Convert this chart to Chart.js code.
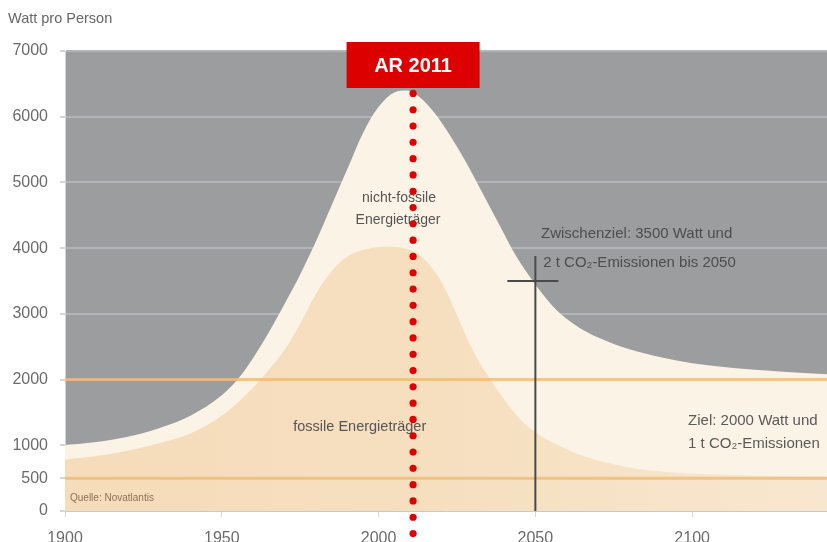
<!DOCTYPE html>
<html lang="de">
<head>
<meta charset="utf-8">
<title>Watt pro Person</title>
<script src="https://cdn.jsdelivr.net/npm/chart.js@4/dist/chart.umd.min.js"></script>
<style>
  html, body { margin: 0; padding: 0; background: #fff; }
  #wrap { width: 827px; height: 542px; position: relative; }
</style>
</head>
<body>
<div id="wrap"><canvas id="grafik"></canvas></div>
<script>
// Energiebedarf pro Person in Watt: Gesamtverlauf, fossiler Anteil, Ziele
const jahreGesamt = [1900, 1910, 1920, 1930, 1940, 1950, 1955, 1960, 1965, 1970, 1975, 1980, 1985, 1990, 1995, 2000, 2005, 2009, 2013, 2018, 2023, 2028, 2033, 2038, 2043, 2048, 2053, 2058, 2064, 2070, 2080, 2090, 2100, 2120, 2143];
const wattGesamt = [1000, 1050, 1130, 1260, 1450, 1760, 2000, 2330, 2720, 3150, 3600, 4100, 4650, 5200, 5750, 6150, 6370, 6400, 6300, 6050, 5700, 5300, 4850, 4400, 3950, 3580, 3260, 3000, 2790, 2640, 2460, 2340, 2250, 2150, 2080];

const jahreFossil = [1900, 1915, 1930, 1940, 1950, 1958, 1965, 1970, 1975, 1980, 1985, 1990, 1995, 2002, 2008, 2013, 2017, 2021, 2025, 2030, 2035, 2040, 2045, 2050, 2056, 2065, 2077, 2090, 2110, 2143];
const wattFossil = [780, 870, 1030, 1180, 1450, 1780, 2150, 2450, 2850, 3300, 3650, 3870, 3970, 4020, 4000, 3900, 3700, 3400, 2980, 2450, 2050, 1700, 1400, 1200, 1030, 840, 690, 600, 550, 520];

const xTicks = [1900, 1950, 2000, 2050, 2100];
const yTicks = [0, 500, 1000, 2000, 3000, 4000, 5000, 6000, 7000];

const zielWerte = [2000, 500];          // 2000 Watt / 1 t CO2
const zwischenzielJahr = 2050;
const zwischenzielWatt = 3500;
const arJahr = 2011;

const xMin = 1900, xMax = 2143;
const schrift = '"Liberation Sans", Arial, sans-serif';

const punkte = (xs, ys) => xs.map((v, i) => ({ x: v, y: ys[i] }));

// grauer Hintergrund der Zeichenfläche
const hintergrund = {
  id: 'hintergrund',
  beforeDraw(chart) {
    const { ctx, chartArea: a } = chart;
    ctx.save();
    ctx.fillStyle = '#9c9d9f';
    ctx.fillRect(a.left, a.top, a.right - a.left, a.bottom - a.top);
    ctx.restore();
  }
};

// Texte, Zwischenziel-Kreuz, AR-Linie und Kasten
const beschriftung = {
  id: 'beschriftung',
  afterDatasetsDraw(chart) {
    const { ctx, scales: { x, y }, chartArea: a } = chart;
    ctx.save();

    ctx.fillStyle = '#666';
    ctx.font = '14.5px ' + schrift;
    ctx.textAlign = 'left';
    ctx.textBaseline = 'middle';
    ctx.fillText('Watt pro Person', 8, 19);

    ctx.fillStyle = '#555';
    ctx.font = '14px ' + schrift;
    ctx.textAlign = 'center';
    ctx.fillText('nicht-fossile', x.getPixelForValue(2006.5), y.getPixelForValue(4760));
    ctx.fillText('Energieträger', x.getPixelForValue(2006.2), y.getPixelForValue(4430));
    ctx.font = '14.5px ' + schrift;
    ctx.fillText('fossile Energieträger', x.getPixelForValue(1994), y.getPixelForValue(1280));

    ctx.textAlign = 'left';
    ctx.font = '15px ' + schrift;
    ctx.fillStyle = '#4d4d4d';
    ctx.fillText('Zwischenziel: 3500 Watt und', x.getPixelForValue(2051.8), y.getPixelForValue(4215));
    ctx.fillText('2 t CO₂-Emissionen bis 2050', x.getPixelForValue(2052.5), y.getPixelForValue(3775));
    ctx.fillStyle = '#5a5a5a';
    ctx.fillText('Ziel: 2000 Watt und', x.getPixelForValue(2098.7), y.getPixelForValue(1370));
    ctx.fillText('1 t CO₂-Emissionen', x.getPixelForValue(2098.7), y.getPixelForValue(1020));

    ctx.fillStyle = '#8a7356';
    ctx.font = '10px ' + schrift;
    ctx.fillText('Quelle: Novatlantis', a.left + 5, y.getPixelForValue(200));

    // Kreuz beim Zwischenziel
    const cx = x.getPixelForValue(zwischenzielJahr);
    const cy = y.getPixelForValue(zwischenzielWatt);
    ctx.strokeStyle = '#4a4a4a';
    ctx.lineWidth = 2;
    ctx.beginPath();
    ctx.moveTo(cx, a.bottom);
    ctx.lineTo(cx, cy - 25);
    ctx.moveTo(cx - 28, cy);
    ctx.lineTo(cx + 23, cy);
    ctx.stroke();

    // gepunktete rote Linie ab dem Maximum
    const rx = x.getPixelForValue(arJahr);
    ctx.fillStyle = '#e00000';
    for (let py = y.getPixelForValue(Math.max(...wattGesamt)) + 3; py < chart.height + 4; py += 16.3) {
      ctx.beginPath();
      ctx.arc(rx, py, 3.6, 0, Math.PI * 2);
      ctx.fill();
    }

    // Kasten "AR 2011"
    ctx.fillStyle = '#dd0000';
    ctx.fillRect(rx - 66.5, 42, 133, 46);
    ctx.fillStyle = '#fff';
    ctx.font = 'bold 20px ' + schrift;
    ctx.textAlign = 'center';
    ctx.fillText('AR ' + arJahr, rx, 66);

    ctx.restore();
  }
};

const zielLinien = zielWerte.map(w => ({
  data: [{ x: xMin, y: w }, { x: xMax, y: w }],
  borderColor: 'rgba(238, 186, 118, 0.8)',
  borderWidth: 3,
  fill: false,
  order: 5
}));

new Chart(document.getElementById('grafik'), {
  type: 'line',
  data: {
    datasets: [
      {
        label: 'nicht-fossile Energieträger',
        data: punkte(jahreGesamt, wattGesamt),
        backgroundColor: '#fbf3e5',
        borderWidth: 0,
        fill: 'origin',
        cubicInterpolationMode: 'monotone',
        order: 10
      },
      {
        label: 'fossile Energieträger',
        data: punkte(jahreFossil, wattFossil),
        backgroundColor: (c) => {
          const a = c.chart.chartArea;
          if (!a) return '#f6e0c2';
          const g = c.chart.ctx.createLinearGradient(a.left, 0, a.right, 0);
          g.addColorStop(0, '#f5dcbb');
          g.addColorStop(0.5, '#f6dfbf');
          g.addColorStop(1, '#f8e7d0');
          return g;
        },
        borderWidth: 0,
        fill: 'origin',
        cubicInterpolationMode: 'monotone',
        order: 9
      },
      ...zielLinien
    ]
  },
  options: {
    responsive: true,
    maintainAspectRatio: false,
    animation: false,
    layout: { padding: { top: 51 } },
    elements: { point: { radius: 0 } },
    plugins: {
      legend: { display: false },
      tooltip: { enabled: false }
    },
    scales: {
      x: {
        type: 'linear',
        min: xMin,
        max: xMax,
        afterBuildTicks: (s) => { s.ticks = xTicks.map(v => ({ value: v })); },
        afterFit: (s) => { s.height = 31; },
        ticks: {
          padding: 12,
          color: '#6b6b6b',
          font: { family: schrift, size: 16 },
          maxRotation: 0,
          callback: (v) => String(v)
        },
        grid: { drawOnChartArea: false, tickLength: 6, tickColor: '#d6d6d6' },
        border: { color: '#cdc7bd' }
      },
      y: {
        min: 0,
        max: 7000,
        afterBuildTicks: (s) => { s.ticks = yTicks.map(v => ({ value: v })); },
        afterFit: (s) => { s.width = 65; },
        ticks: {
          padding: 12,
          color: '#6b6b6b',
          font: { family: schrift, size: 16 },
          callback: (v) => String(v)
        },
        grid: {
          color: (c) => (c.tick && c.tick.value % 1000 === 0 && c.tick.value > 0) ? '#b3b4b7' : 'rgba(0,0,0,0)',
          lineWidth: 2,
          tickLength: 5,
          tickColor: '#d6d6d6'
        },
        border: { color: '#d3d3d3' }
      }
    }
  },
  plugins: [hintergrund, beschriftung]
});
</script>
</body>
</html>
